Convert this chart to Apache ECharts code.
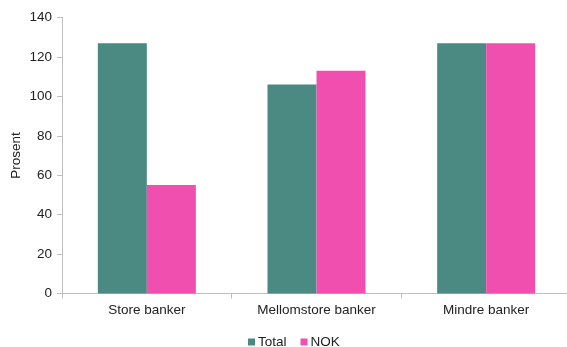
<!DOCTYPE html>
<html><head><meta charset="utf-8">
<script src="https://cdn.jsdelivr.net/npm/echarts@6/dist/echarts.min.js"></script>
<style>html,body{margin:0;padding:0;background:#fff}#c{width:567px;height:347px}</style>
</head><body><div id="c"></div>
<script>
const categories = ['Store banker', 'Mellomstore banker', 'Mindre banker'];
const totalValues = [127, 106, 127];
const nokValues = [55, 113, 127];
const seriesNames = ['Total', 'NOK'];
const yTicks = [0, 20, 40, 60, 80, 100, 120, 140];

const font = 'Liberation Sans, Arial, sans-serif';
const chart = echarts.init(document.getElementById('c'));
chart.setOption({
  animation: false,
  grid: { left: 62, width: 509, top: 17.5, height: 276, containLabel: false, outerBoundsMode: 'none' },
  legend: {
    data: seriesNames, top: 330, left: 243,
    itemWidth: 7, itemHeight: 7, itemGap: 14, icon: 'rect',
    textStyle: { fontFamily: font, fontSize: 13.5, color: '#222', padding: [0, 0, 0, -2] }
  },
  xAxis: {
    type: 'category', data: categories,
    axisLine: { lineStyle: { color: '#BFBFBF', width: 1 } },
    axisTick: { show: true, length: 5, lineStyle: { color: '#BFBFBF' } },
    axisLabel: { fontFamily: font, fontSize: 13.5, color: '#222', margin: 10 }
  },
  yAxis: {
    type: 'value', min: yTicks[0], max: yTicks[yTicks.length - 1], interval: 20,
    name: 'Prosent', nameLocation: 'middle', nameGap: 39, nameMoveOverlap: false,
    nameTextStyle: { fontFamily: font, fontSize: 13.5, color: '#222' },
    axisLine: { show: true, lineStyle: { color: '#BFBFBF', width: 1 } },
    axisTick: { show: true, length: 5, lineStyle: { color: '#BFBFBF' } },
    splitLine: { show: false },
    axisLabel: { fontFamily: font, fontSize: 13.5, color: '#222', margin: 10 }
  },
  series: [
    { name: seriesNames[0], type: 'bar', data: totalValues, barWidth: 49, barGap: '0%',
      itemStyle: { color: '#4A8A82' } },
    { name: seriesNames[1], type: 'bar', data: nokValues, barWidth: 49, barGap: '0%',
      itemStyle: { color: '#F04FB0' } }
  ]
});
</script></body></html>
